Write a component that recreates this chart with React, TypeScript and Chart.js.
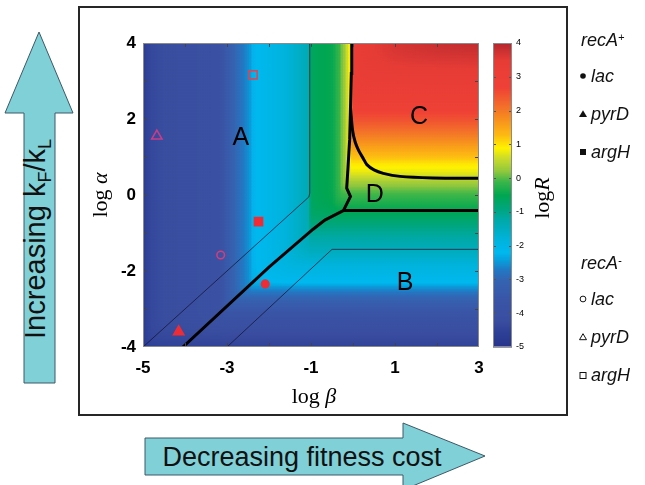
import React, { useEffect, useRef } from "react";
import { Chart, registerables } from "chart.js";

Chart.register(...registerables);

// ---------- data ----------
const BETA_MIN = -5;
const BETA_MAX = 3;
const ALPHA_MIN = -4;
const ALPHA_MAX = 4;
const LOGR_MIN = -5;
const LOGR_MAX = 4;
const X_TICK_LABELS = [-5, -3, -1, 1, 3];
const Y_TICK_LABELS = [-4, -2, 0, 2, 4];
const CB_TICK_LABELS = [4, 3, 2, 1, 0, -1, -2, -3, -4, -5];

// logR read along log beta (where alpha is not limiting)
const BETA_PROFILE_B = [-5, -4.8, -4.5, -3.8, -3.2, -2.95, -2.75, -2.5, -2.4, -2.0, -1.67, -1.3, -1.06, -1.0, -0.5, -0.35, -0.24, -0.15, -0.1, -0.06, 0.0, 0.3, 1, 2, 3];
const BETA_PROFILE_LOGR = [-4.7, -4.35, -4.2, -4.1, -3.9, -3.3, -2.9, -2.55, -2.25, -2.05, -1.85, -1.55, -1.35, -0.6, -0.45, -0.15, 0.2, 0.55, 0.85, 1.0, 3.2, 3.45, 3.7, 3.9, 4.1];
// logR read along log alpha (where beta is not limiting)
const ALPHA_PROFILE_A = [-4, -3.6, -3.2, -2.8, -2.55, -2.4, -2.3, -2.0, -1.5, -1.0, -0.5, -0.2, 0.1, 0.35, 0.6, 0.85, 1.0, 1.3, 1.6, 2.0, 2.5, 3.0, 3.5, 4.0];
const ALPHA_PROFILE_LOGR = [-4.5, -4.2, -3.8, -3.2, -2.75, -2.45, -2.2, -1.95, -1.5, -1.1, -0.6, -0.3, 0.0, 0.35, 0.75, 1.0, 1.25, 1.6, 2.0, 2.5, 3.0, 3.3, 3.6, 3.9];

// thick boundaries
const MAIN_BOUNDARY_B = [-4.05, -2, -0.95, -0.67, -0.23, -0.06, -0.15, -0.12, -0.08, -0.06, -0.04, -0.03];
const MAIN_BOUNDARY_A = [-4, -1.9, -0.9, -0.66, -0.41, -0.04, 0.18, 0.7, 1.45, 2.3, 3.2, 4];
const D_BOUNDARY_B = [-0.23, 3];
const D_BOUNDARY_A = [-0.41, -0.41];
const C_BOUNDARY_B = [-0.06, -0.01, 0.05, 0.13, 0.25, 0.33, 0.5, 0.72, 1.12, 1.9, 3];
const C_BOUNDARY_A = [2.3, 1.7, 1.4, 1.18, 0.95, 0.8, 0.66, 0.57, 0.49, 0.45, 0.44];
// thin lines
const THIN_UPPER_B = [-5, -1.05, -1.03, -1.03];
const THIN_UPPER_A = [-4, -0.05, 0.05, 4];
const THIN_LOWER_B = [-3, -0.5, 3];
const THIN_LOWER_A = [-4, -1.43, -1.43];

// region letters
const REGION_LABELS = ["A", "B", "C", "D"];
const REGION_B = [-2.67, 1.24, 1.57, 0.52];
const REGION_A = [1.53, -2.29, 2.08, 0.03];

// strains
const STRAIN_NAMES = ["recA+ lac", "recA+ pyrD", "recA+ argH", "recA- lac", "recA- pyrD", "recA- argH"];
const STRAIN_B = [-2.09, -4.15, -2.25, -3.15, -4.67, -2.38];
const STRAIN_A = [-2.34, -3.6, -0.7, -1.58, 1.55, 3.16];

// ---------- styles ----------
const SANS = "'Liberation Sans', Arial, Helvetica, sans-serif";
const SERIF = "'Liberation Serif', 'Times New Roman', serif";
const CMAP_V = [-5, -4.6, -4.2, -3.6, -3.0, -2.7, -2.45, -2.2, -1.8, -1.5, -1.2, -0.9, -0.5, -0.1, 0.2, 0.6, 0.9, 1.3, 1.7, 2.2, 2.7, 3.5, 4];
const CMAP_C = ["#27338a", "#2d3f95", "#3a4ea0", "#3a55a6", "#3465b2", "#2279c4", "#0a9ad9", "#00b8ef", "#00b3dc", "#00adc0", "#00a9a6", "#00a67e", "#00a652", "#39b54a", "#8dc63f", "#cbdb2a", "#fff200", "#fdb913", "#f7941d", "#f26a2c", "#ef4136", "#e63c36", "#b5282e"];
const STRAIN_STYLE = [
  { pointStyle: "circle", r: 3.8, fill: "#ee2c36", stroke: "#ee2c36" },
  { pointStyle: "triangle", r: 6, fill: "#ee2c36", stroke: "#ee2c36" },
  { pointStyle: "rect", r: 5.8, fill: "#ee2c36", stroke: "#ee2c36" },
  { pointStyle: "circle", r: 3.8, fill: "rgba(0,0,0,0)", stroke: "#d63c78" },
  { pointStyle: "triangle", r: 6, fill: "rgba(0,0,0,0)", stroke: "#cc3c86" },
  { pointStyle: "rect", r: 5.8, fill: "rgba(0,0,0,0)", stroke: "#e8404e" },
];

function interp(xs: number[], ys: number[], x: number) {
  if (x <= xs[0]) return ys[0];
  for (let i = 1; i < xs.length; i++) {
    if (x <= xs[i]) {
      const t = (x - xs[i - 1]) / (xs[i] - xs[i - 1]);
      return ys[i - 1] + t * (ys[i] - ys[i - 1]);
    }
  }
  return ys[ys.length - 1];
}
function softMin(a: number, b: number) {
  const s = 0.35;
  const m = Math.min(a, b);
  return m - s * Math.log10(Math.pow(10, -(a - m) / s) + Math.pow(10, -(b - m) / s));
}
const CMAP_RGB = CMAP_C.map((h) => [parseInt(h.slice(1, 3), 16), parseInt(h.slice(3, 5), 16), parseInt(h.slice(5, 7), 16)]);
function colorFor(v: number) {
  if (v <= CMAP_V[0]) return `rgb(${CMAP_RGB[0].join(",")})`;
  for (let i = 1; i < CMAP_V.length; i++) {
    if (v <= CMAP_V[i]) {
      const t = (v - CMAP_V[i - 1]) / (CMAP_V[i] - CMAP_V[i - 1]);
      const a = CMAP_RGB[i - 1], b = CMAP_RGB[i];
      return `rgb(${Math.round(a[0] + t * (b[0] - a[0]))},${Math.round(a[1] + t * (b[1] - a[1]))},${Math.round(a[2] + t * (b[2] - a[2]))})`;
    }
  }
  return `rgb(${CMAP_RGB[CMAP_RGB.length - 1].join(",")})`;
}

function drawMixed(ctx: CanvasRenderingContext2D, parts: { t: string; f: string }[], cx: number, cy: number, rot: number) {
  ctx.save();
  ctx.translate(cx, cy);
  ctx.rotate(rot);
  let w = 0;
  parts.forEach((p) => { ctx.font = p.f; w += ctx.measureText(p.t).width; });
  let x = -w / 2;
  ctx.textBaseline = "middle";
  ctx.textAlign = "left";
  ctx.fillStyle = "#000";
  parts.forEach((p) => { ctx.font = p.f; ctx.fillText(p.t, x, 0); x += ctx.measureText(p.t).width; });
  ctx.restore();
}

const heatPlugin = {
  id: "heat",
  beforeDatasetsDraw(chart: any) {
    const { ctx, chartArea: a, scales } = chart;
    const xs = scales.x, ys = scales.y;
    ctx.save();
    ctx.beginPath();
    ctx.rect(a.left, a.top, a.right - a.left, a.bottom - a.top);
    ctx.clip();
    const step = 0.04;
    const nb = Math.round((BETA_MAX - BETA_MIN) / step);
    const na = Math.round((ALPHA_MAX - ALPHA_MIN) / step);
    const colX: number[] = [], colV: number[] = [], rowY: number[] = [], rowV: number[] = [];
    for (let i = 0; i <= nb; i++) colX.push(Math.round(xs.getPixelForValue(BETA_MIN + i * step)));
    for (let i = 0; i < nb; i++) colV.push(interp(BETA_PROFILE_B, BETA_PROFILE_LOGR, BETA_MIN + (i + 0.5) * step));
    for (let j = 0; j <= na; j++) rowY.push(Math.round(ys.getPixelForValue(ALPHA_MIN + j * step)));
    for (let j = 0; j < na; j++) rowV.push(interp(ALPHA_PROFILE_A, ALPHA_PROFILE_LOGR, ALPHA_MIN + (j + 0.5) * step));
    for (let j = 0; j < na; j++) {
      for (let i = 0; i < nb; i++) {
        ctx.fillStyle = colorFor(softMin(colV[i], rowV[j]));
        ctx.fillRect(colX[i], rowY[j + 1], colX[i + 1] - colX[i] + 0.5, rowY[j] - rowY[j + 1] + 0.5);
      }
    }
    ctx.restore();
  },
  afterDraw(chart: any) {
    const { ctx, chartArea: a, scales } = chart;
    const xs = scales.x, ys = scales.y;
    ctx.save();
    // inside ticks
    ctx.strokeStyle = "#444";
    ctx.lineWidth = 1;
    ctx.beginPath();
    for (let v = BETA_MIN + 1; v < BETA_MAX; v++) {
      const px = Math.round(xs.getPixelForValue(v)) + 0.5;
      ctx.moveTo(px, a.bottom); ctx.lineTo(px, a.bottom - 4);
      ctx.moveTo(px, a.top); ctx.lineTo(px, a.top + 4);
    }
    for (let v = ALPHA_MIN + 1; v < ALPHA_MAX; v++) {
      const py = Math.round(ys.getPixelForValue(v)) + 0.5;
      ctx.moveTo(a.left, py); ctx.lineTo(a.left + 4, py);
      ctx.moveTo(a.right, py); ctx.lineTo(a.right - 4, py);
    }
    ctx.stroke();
    ctx.strokeStyle = "#8a8a8a";
    ctx.strokeRect(a.left + 0.5, a.top + 0.5, a.right - a.left - 1, a.bottom - a.top - 1);
    // region labels
    ctx.fillStyle = "#000";
    ctx.font = `25px ${SANS}`;
    ctx.textAlign = "center";
    ctx.textBaseline = "middle";
    REGION_LABELS.forEach((t, i) => {
      ctx.fillText(t, xs.getPixelForValue(REGION_B[i]), ys.getPixelForValue(REGION_A[i]) + 1);
    });
    ctx.restore();
    // axis titles
    const cx = (a.left + a.right) / 2, cy = (a.top + a.bottom) / 2;
    drawMixed(ctx, [{ t: "log ", f: `22px ${SERIF}` }, { t: "β", f: `italic 22px ${SERIF}` }], cx + 3, a.bottom + 50, 0);
    drawMixed(ctx, [{ t: "log ", f: `22px ${SERIF}` }, { t: "α", f: `italic 22px ${SERIF}` }], a.left - 42, cy, -Math.PI / 2);
    drawMixed(ctx, [{ t: "log", f: `22px ${SERIF}` }, { t: "R", f: `italic 22px ${SERIF}` }], a.right + 64, cy + 3, -Math.PI / 2);
  },
};

const cbPlugin = {
  id: "cbar",
  beforeDatasetsDraw(chart: any) {
    const { ctx, chartArea: a, scales } = chart;
    const ys = scales.y;
    const step = 0.02;
    const n = Math.round((LOGR_MAX - LOGR_MIN) / step);
    ctx.save();
    for (let j = 0; j < n; j++) {
      const v0 = LOGR_MIN + j * step;
      const y0 = Math.round(ys.getPixelForValue(v0));
      const y1 = Math.round(ys.getPixelForValue(v0 + step));
      ctx.fillStyle = colorFor(v0 + step / 2);
      ctx.fillRect(a.left, y1, a.right - a.left, y0 - y1 + 0.5);
    }
    ctx.strokeStyle = "#555";
    ctx.lineWidth = 1;
    ctx.beginPath();
    for (let v = LOGR_MIN + 1; v < LOGR_MAX; v++) {
      const py = Math.round(ys.getPixelForValue(v)) + 0.5;
      ctx.moveTo(a.left, py); ctx.lineTo(a.left + 3, py);
      ctx.moveTo(a.right, py); ctx.lineTo(a.right - 3, py);
    }
    ctx.stroke();
    ctx.strokeStyle = "#8a8a8a";
    ctx.strokeRect(a.left + 0.5, a.top + 0.5, a.right - a.left - 1, a.bottom - a.top - 1);
    ctx.restore();
  },
};

function pts(bs: number[], as: number[]) {
  return bs.map((b, i) => ({ x: b, y: as[i] }));
}

function LegendMarker({ kind }: { kind: number }) {
  const filled = kind < 3;
  const shape = kind % 3;
  const fill = filled ? "#111" : "none";
  const stroke = "#111";
  return (
    <svg width={12} height={12} style={{ display: "block" }}>
      {shape === 0 && <circle cx={6} cy={6} r={filled ? 2.8 : 2.9} fill={fill} stroke={stroke} strokeWidth={filled ? 0 : 1} />}
      {shape === 1 && <polygon points={filled ? "6,2.2 10,9 2,9" : "6,2.7 9.5,8.7 2.5,8.7"} fill={fill} stroke={stroke} strokeWidth={filled ? 0 : 1} />}
      {shape === 2 && (filled ? <rect x={3} y={3} width={6} height={6} fill={fill} /> : <rect x={3} y={3.5} width={6} height={6} fill="none" stroke={stroke} strokeWidth={1} />)}
    </svg>
  );
}

const LEGEND_GENES = ["lac", "pyrD", "argH"];
const LEGEND_GROUP_BASELINES = [43, 266];
const LEGEND_ITEM_OFFSETS = [39, 77, 115];

export default function App() {
  const mainRef = useRef<HTMLCanvasElement>(null);
  const cbRef = useRef<HTMLCanvasElement>(null);

  useEffect(() => {
    const tickFont = { family: SANS, size: 17, weight: "bold" as const };
    const datasets: any[] = [
      { data: pts(THIN_UPPER_B, THIN_UPPER_A), showLine: true, borderColor: "rgba(20,20,50,0.75)", borderWidth: 1, pointRadius: 0, tension: 0 },
      { data: pts(THIN_LOWER_B, THIN_LOWER_A), showLine: true, borderColor: "rgba(20,20,50,0.75)", borderWidth: 1, pointRadius: 0, tension: 0 },
      { data: pts(MAIN_BOUNDARY_B, MAIN_BOUNDARY_A), showLine: true, borderColor: "#000", borderWidth: 3, pointRadius: 0, tension: 0 },
      { data: pts(D_BOUNDARY_B, D_BOUNDARY_A), showLine: true, borderColor: "#000", borderWidth: 3, pointRadius: 0, tension: 0 },
      { data: pts(C_BOUNDARY_B, C_BOUNDARY_A), showLine: true, borderColor: "#000", borderWidth: 3, pointRadius: 0, tension: 0.3 },
      ...STRAIN_NAMES.map((name, i) => ({
        label: name,
        data: [{ x: STRAIN_B[i], y: STRAIN_A[i] }],
        pointStyle: STRAIN_STYLE[i].pointStyle,
        pointRadius: STRAIN_STYLE[i].r,
        backgroundColor: STRAIN_STYLE[i].fill,
        borderColor: STRAIN_STYLE[i].stroke,
        borderWidth: 1.5,
        showLine: false,
      })),
    ];
    const main = new Chart(mainRef.current as HTMLCanvasElement, {
      type: "scatter",
      data: { datasets },
      options: {
        responsive: false,
        animation: false,
        devicePixelRatio: 1,
        layout: { padding: { left: 80, right: 166, top: 43, bottom: 68 } },
        plugins: { legend: { display: false }, tooltip: { enabled: false } },
        scales: {
          x: {
            type: "linear", min: BETA_MIN, max: BETA_MAX, position: "bottom",
            grid: { display: false, drawTicks: false }, border: { display: false },
            ticks: {
              stepSize: 1, autoSkip: false, maxRotation: 0, padding: 11, color: "#000", font: tickFont,
              callback: (v: any) => (X_TICK_LABELS.includes(Math.round(Number(v))) ? String(Math.round(Number(v))) : ""),
            },
            afterFit: (s: any) => { s.height = 70; },
          },
          y: {
            type: "linear", min: ALPHA_MIN, max: ALPHA_MAX, position: "left",
            grid: { display: false, drawTicks: false }, border: { display: false },
            ticks: {
              stepSize: 1, autoSkip: false, padding: 7, color: "#000", font: tickFont,
              callback: (v: any) => (Y_TICK_LABELS.includes(Math.round(Number(v))) ? String(Math.round(Number(v))) : ""),
            },
            afterFit: (s: any) => { s.width = 63; },
          },
        },
      } as any,
      plugins: [heatPlugin],
    });

    const cb = new Chart(cbRef.current as HTMLCanvasElement, {
      type: "scatter",
      data: { datasets: [{ data: [] }] },
      options: {
        responsive: false,
        animation: false,
        devicePixelRatio: 1,
        layout: { padding: { left: 0, right: 0, top: 43, bottom: 138 } },
        plugins: { legend: { display: false }, tooltip: { enabled: false } },
        scales: {
          x: { display: false, min: 0, max: 1 },
          y: {
            type: "linear", min: LOGR_MIN, max: LOGR_MAX, position: "right",
            grid: { display: false, drawTicks: false }, border: { display: false },
            ticks: {
              stepSize: 1, autoSkip: false, padding: 4, color: "#000", font: { family: SANS, size: 9 },
              callback: (v: any) => (CB_TICK_LABELS.includes(Math.round(Number(v))) ? String(Math.round(Number(v))) : ""),
            },
            afterFit: (s: any) => { s.width = 41; },
          },
        },
      } as any,
      plugins: [cbPlugin],
    });

    return () => { main.destroy(); cb.destroy(); };
  }, []);

  const legendText: React.CSSProperties = {
    position: "absolute", fontFamily: SANS, fontStyle: "italic", fontSize: 18, lineHeight: "20px", whiteSpace: "nowrap", color: "#111",
  };

  return (
    <div style={{ position: "absolute", left: 0, top: 0, width: 645, height: 485, overflow: "hidden", background: "#fff" }}>
      {/* outer frame */}
      <div style={{ position: "absolute", left: 78, top: 6, width: 490, height: 410, boxSizing: "border-box", border: "2px solid #262626" }} />
      {/* arrows */}
      <svg width={645} height={485} style={{ position: "absolute", left: 0, top: 0 }}>
        <polygon points="39,32 73,113 55,113 55,383 24,383 24,113 5,113" fill="#80d0d8" stroke="#3d5866" strokeWidth={1} />
        <polygon points="145,438 403,438 403,423 485,456 403,490 403,475 145,475" fill="#80d0d8" stroke="#3d5866" strokeWidth={1} />
      </svg>
      <div style={{ position: "absolute", left: 40, top: 239, transform: "translate(-50%, -50%) rotate(-90deg)", fontFamily: SANS, fontSize: 29, lineHeight: "32px", whiteSpace: "nowrap", color: "#111" }}>
        Increasing k<span style={{ fontSize: "0.62em", verticalAlign: "-0.3em" }}>F</span>/k<span style={{ fontSize: "0.62em", verticalAlign: "-0.3em" }}>L</span>
      </div>
      <div style={{ position: "absolute", left: 302, top: 457, transform: "translate(-50%, -50%)", fontFamily: SANS, fontSize: 27, lineHeight: "30px", whiteSpace: "nowrap", color: "#111" }}>
        Decreasing fitness cost
      </div>
      <canvas ref={mainRef} width={645} height={485} style={{ position: "absolute", left: 0, top: 0, width: 645, height: 485 }} />
      <canvas ref={cbRef} width={60} height={485} style={{ position: "absolute", left: 493, top: 0, width: 60, height: 485 }} />
      {/* legend */}
      {LEGEND_GROUP_BASELINES.map((base, g) => (
        <React.Fragment key={g}>
          <div style={{ ...legendText, left: 581, top: base - 16 }}>
            recA<span style={{ fontSize: 11, verticalAlign: "0.45em" }}>{g === 0 ? "+" : "-"}</span>
          </div>
          {LEGEND_GENES.map((gene, k) => (
            <React.Fragment key={gene}>
              <div style={{ position: "absolute", left: 577, top: base + LEGEND_ITEM_OFFSETS[k] - 12 }}>
                <LegendMarker kind={g * 3 + k} />
              </div>
              <div style={{ ...legendText, left: 591, top: base + LEGEND_ITEM_OFFSETS[k] - 16 }}>{gene}</div>
            </React.Fragment>
          ))}
        </React.Fragment>
      ))}
    </div>
  );
}
